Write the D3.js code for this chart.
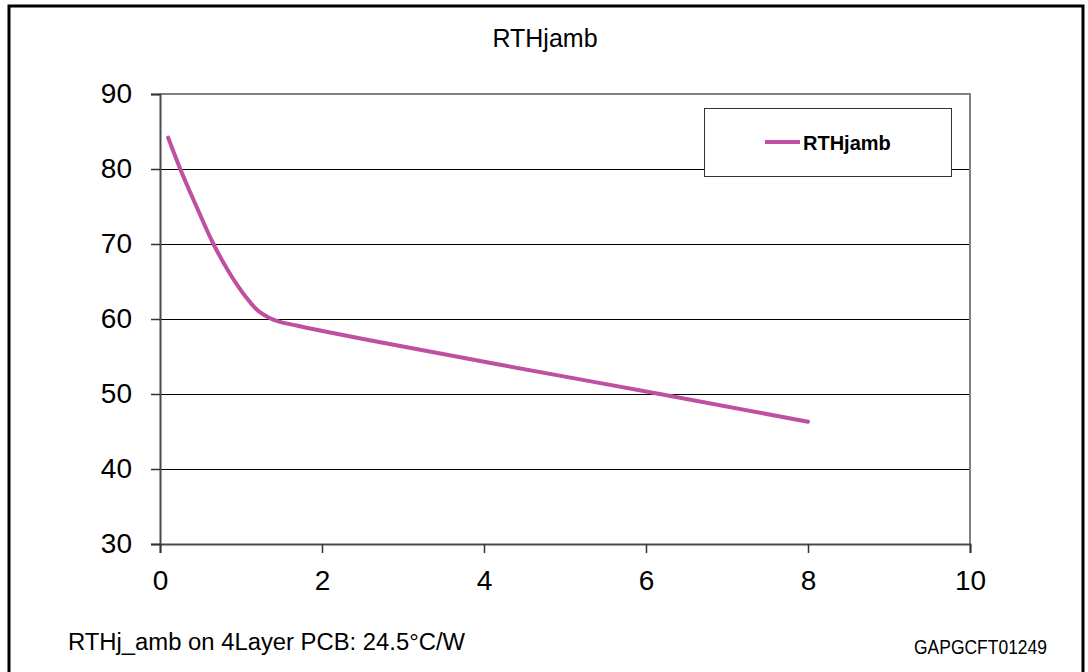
<!doctype html>
<html>
<head>
<meta charset="utf-8"/>
<script src="https://cdnjs.cloudflare.com/ajax/libs/d3/7.8.5/d3.min.js"></script>
<style>
  body { margin: 0; background: #fff; }
  text { font-family: Arial, "Liberation Sans", sans-serif; fill: #000; }
  .grid { stroke: #000; stroke-width: 1px; }
  .curve { fill: none; stroke: #BF4FA0; stroke-width: 4px; stroke-linecap: round; }
</style>
</head>
<body>
<svg id="chart" width="1088" height="672"></svg>
<script>
// values
var seriesName = "RTHjamb";
var xVals = [0.1, 0.25, 0.45, 0.66, 0.86, 1.07, 1.19, 1.36, 1.7, 2.1, 2.72, 4.2, 6.17, 8];
var yVals = [84.2, 80, 75, 70, 66.1, 62.8, 61.3, 60.1, 59.1, 58.2, 56.9, 53.9, 50, 46.3];
var xTicks = [0, 2, 4, 6, 8, 10];
var yTicks = [30, 40, 50, 60, 70, 80, 90];
var footLeft = "RTHj_amb on 4Layer PCB:  24.5°C/W";
var footRight = "GAPGCFT01249";

var svg = d3.select("#chart");
var pLeft = 160, pRight = 970, pTop = 94, pBottom = 544;

var x = d3.scaleLinear().domain([0, 10]).range([pLeft, pRight]);
var y = d3.scaleLinear().domain([30, 90]).range([pBottom, pTop]);

// outer frame
svg.append("rect")
  .attr("x", 9).attr("y", 6).attr("width", 1074).attr("height", 672)
  .attr("fill", "none").attr("stroke", "#000").attr("stroke-width", 3);

// title
svg.append("text").attr("x", 545).attr("y", 47)
  .attr("text-anchor", "middle").style("font-size", "25px").text(seriesName);

// grid lines
svg.append("g").selectAll("line")
  .data(yTicks.filter(d => d > 30 && d < 90))
  .enter().append("line").attr("class", "grid")
  .attr("x1", pLeft).attr("x2", pRight)
  .attr("y1", d => y(d) + 0.5).attr("y2", d => y(d) + 0.5);

// plot border top/right (gray)
svg.append("path")
  .attr("d", `M${pLeft},${pTop}H${pRight}V${pBottom}`)
  .attr("fill", "none").attr("stroke", "#808080").attr("stroke-width", 2);

// axes
var yAxis = svg.append("g").attr("transform", `translate(${pLeft},0)`)
  .call(d3.axisLeft(y).tickValues(yTicks).tickSize(9).tickPadding(8));
var xAxis = svg.append("g").attr("transform", `translate(0,${pBottom})`)
  .call(d3.axisBottom(x).tickValues(xTicks).tickSize(9).tickPadding(17));

[yAxis, xAxis].forEach(g => {
  g.select(".domain").attr("stroke", "#4a4a4a").attr("stroke-width", 2);
  g.selectAll(".tick line").attr("stroke", "#333").attr("stroke-width", 1.5);
  g.selectAll(".tick text").style("font-size", "28px")
    .style("font-family", "Arial, 'Liberation Sans', sans-serif").attr("fill", "#000");
});
yAxis.selectAll(".tick text").attr("x", -28);

// curve
var pts = xVals.map((v, i) => [v, yVals[i]]);
var line = d3.line().x(d => x(d[0])).y(d => y(d[1])).curve(d3.curveMonotoneX);
svg.append("path").datum(pts).attr("class", "curve").attr("d", line);

// legend
svg.append("rect").attr("x", 704.5).attr("y", 108.5).attr("width", 247).attr("height", 68)
  .attr("fill", "#fff").attr("stroke", "#333").attr("stroke-width", 1);
svg.append("line").attr("x1", 765).attr("x2", 800).attr("y1", 142).attr("y2", 142)
  .attr("stroke", "#BF4FA0").attr("stroke-width", 4);
svg.append("text").attr("x", 803).attr("y", 150)
  .style("font-size", "20px").style("font-weight", "bold").text(seriesName);

// footnotes
svg.append("text").attr("x", 68).attr("y", 650)
  .attr("textLength", 397).attr("lengthAdjust", "spacingAndGlyphs")
  .style("font-size", "23px").text(footLeft);
svg.append("text").attr("x", 914).attr("y", 654)
  .attr("textLength", 133).attr("lengthAdjust", "spacingAndGlyphs")
  .style("font-size", "20px").text(footRight);
</script>
</body>
</html>
